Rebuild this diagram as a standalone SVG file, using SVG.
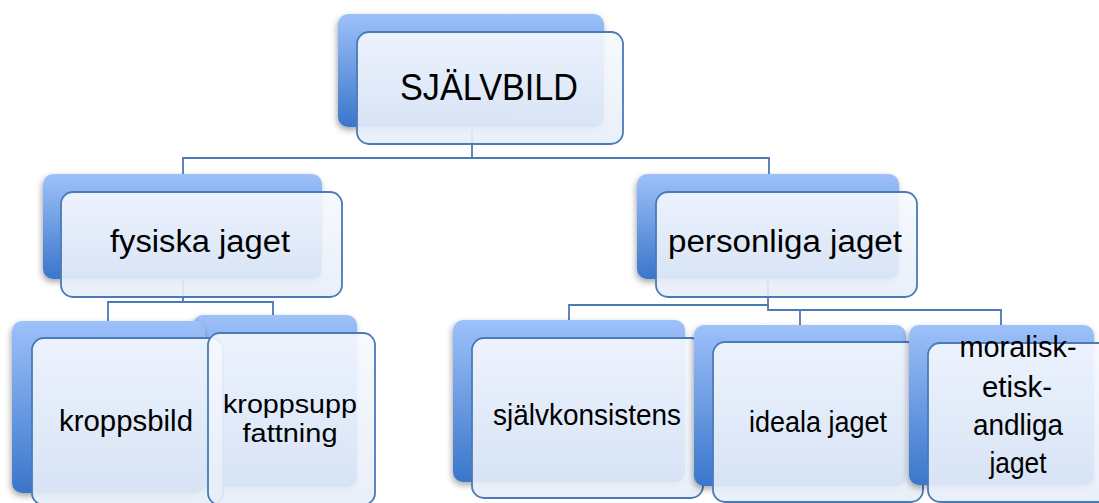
<svg xmlns="http://www.w3.org/2000/svg" width="1099" height="503" viewBox="0 0 1099 503">
<defs>
<linearGradient id="gBack" x1="0" y1="0" x2="0" y2="1">
<stop offset="0" stop-color="#9dc1fa"/>
<stop offset="1" stop-color="#3a76cb"/>
</linearGradient>
<linearGradient id="gFront" x1="0" y1="0" x2="0" y2="1">
<stop offset="0" stop-color="#f6f9fe"/>
<stop offset="1" stop-color="#e7eef9"/>
</linearGradient>
<filter id="sh" x="-10%" y="-10%" width="125%" height="130%">
<feDropShadow dx="-1" dy="3" stdDeviation="3" flood-color="#000" flood-opacity="0.35"/>
</filter>
</defs>
<style>
.back{fill:url(#gBack);filter:url(#sh)}
.front{fill:url(#gFront);fill-opacity:0.9;stroke:#4a7ab8;stroke-width:1.8}
.conn{fill:none;stroke:#4a7ab8;stroke-width:1.8}
text{font-family:"Liberation Sans",Arial,sans-serif;fill:#000;text-anchor:middle}
</style>
<rect width="1099" height="503" fill="#fff"/>
<g id="connectors">
<path class="conn" d="M472,130 V158 H183 V180"/>
<path class="conn" d="M472,158 H769 V180"/>
<path class="conn" d="M183,280 V302 H108 V324"/>
<path class="conn" d="M183,302 H273 V318"/>
<path class="conn" d="M768,280 V305 H569 V324"/>
<path class="conn" d="M768,305 V310 H1001 V328"/>
<path class="conn" d="M800,310 V328"/>
</g>
<g id="sjalvbild">
<rect class="back" x="338" y="14" width="266" height="113" rx="10"/>
<rect class="front" x="357" y="32" width="266" height="112" rx="12"/>
<text x="489" y="100" font-size="36" textLength="178" lengthAdjust="spacingAndGlyphs">SJÄLVBILD</text>
</g>
<g id="fysiska">
<rect class="back" x="43" y="174" width="279" height="105" rx="10"/>
<rect class="front" x="61" y="192" width="281" height="105" rx="12"/>
<text x="200" y="252" font-size="31" textLength="180" lengthAdjust="spacingAndGlyphs">fysiska jaget</text>
</g>
<g id="personliga">
<rect class="back" x="637" y="174" width="262" height="105" rx="10"/>
<rect class="front" x="656" y="192" width="261" height="105" rx="12"/>
<text x="785" y="252" font-size="31" textLength="234" lengthAdjust="spacingAndGlyphs">personliga jaget</text>
</g>
<g id="kroppsuppfattning">
<rect class="back" x="193" y="315" width="164" height="172" rx="10"/>
</g>
<g id="kroppsbild">
<rect class="back" x="12" y="321" width="193" height="172" rx="10"/>
<rect class="front" x="32" y="338" width="191" height="167" rx="12"/>
<text x="126" y="431" font-size="29" textLength="134" lengthAdjust="spacingAndGlyphs">kroppsbild</text>
</g>
<g id="kroppsuppfattning-front">
<rect class="front" x="208" y="333" width="167" height="172" rx="12"/>
<text x="290" y="413" font-size="25" textLength="134" lengthAdjust="spacingAndGlyphs">kroppsupp</text>
<text x="290" y="442" font-size="25" textLength="95" lengthAdjust="spacingAndGlyphs">fattning</text>
</g>
<g id="sjalvkonsistens">
<rect class="back" x="453" y="320" width="232" height="162" rx="10"/>
<rect class="front" x="472" y="338" width="231" height="160" rx="12"/>
<text x="587" y="425" font-size="29" textLength="188" lengthAdjust="spacingAndGlyphs">självkonsistens</text>
</g>
<g id="ideala">
<rect class="back" x="694" y="325" width="212" height="161" rx="10"/>
<rect class="front" x="713" y="342" width="210" height="160" rx="12"/>
<text x="818" y="432" font-size="29" textLength="138" lengthAdjust="spacingAndGlyphs">ideala jaget</text>
</g>
<g id="moralisk">
<rect class="back" x="909" y="325" width="185" height="160" rx="10"/>
<rect class="front" x="928" y="343" width="185" height="159" rx="12"/>
<text x="1018" y="357" font-size="29" textLength="117" lengthAdjust="spacingAndGlyphs">moralisk-</text>
<text x="1017" y="397" font-size="29" textLength="70" lengthAdjust="spacingAndGlyphs">etisk-</text>
<text x="1018" y="435" font-size="29" textLength="90" lengthAdjust="spacingAndGlyphs">andliga</text>
<text x="1018" y="473" font-size="29" textLength="57" lengthAdjust="spacingAndGlyphs">jaget</text>
</g>
</svg>
